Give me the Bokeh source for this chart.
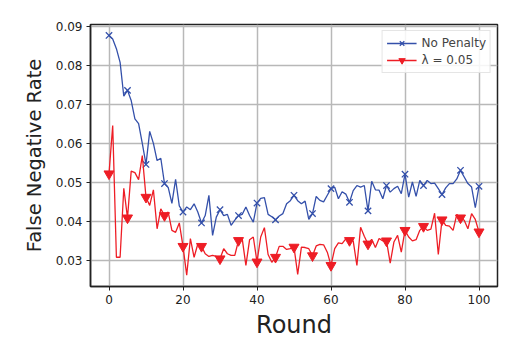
from bokeh.plotting import figure
from bokeh.embed import file_html
from bokeh.resources import INLINE
from bokeh.models import FixedTicker, Range1d

rounds = list(range(101))

no_penalty = [
    0.0877, 0.0868, 0.0843, 0.0808, 0.0721, 0.0736, 0.0710, 0.0663, 0.0651, 0.0600,
    0.0546, 0.0631, 0.0600, 0.0556, 0.0562, 0.0497, 0.0487, 0.0446, 0.0508, 0.0440,
    0.0424, 0.0437, 0.0430, 0.0445, 0.0424, 0.0396, 0.0415, 0.0467, 0.0364, 0.0411,
    0.0430, 0.0415, 0.0418, 0.0390, 0.0403, 0.0415, 0.0418, 0.0437, 0.0415, 0.0398,
    0.0447, 0.0459, 0.0461, 0.0418, 0.0412, 0.0404, 0.0414, 0.0420, 0.0445, 0.0453,
    0.0467, 0.0453, 0.0445, 0.0452, 0.0405, 0.0420, 0.0464, 0.0454, 0.0450, 0.0467,
    0.0484, 0.0488, 0.0458, 0.0476, 0.0470, 0.0449, 0.0479, 0.0492, 0.0488, 0.0492,
    0.0427, 0.0503, 0.0481, 0.0480, 0.0458, 0.0492, 0.0475, 0.0484, 0.0490, 0.0471,
    0.0521, 0.0462, 0.0501, 0.0464, 0.0505, 0.0492, 0.0505, 0.0497, 0.0498, 0.0484,
    0.0469, 0.0486, 0.0497, 0.0497, 0.0509, 0.0531, 0.0514, 0.0497, 0.0488, 0.0435,
    0.0490,
]

lambda_005 = [
    0.0522, 0.0646, 0.0308, 0.0308, 0.0485, 0.0409, 0.0529, 0.0525, 0.0507, 0.0569,
    0.0462, 0.0441, 0.0481, 0.0381, 0.0432, 0.0415, 0.0424, 0.0377, 0.0372, 0.0396,
    0.0336, 0.0262, 0.0356, 0.0308, 0.0342, 0.0336, 0.0317, 0.0310, 0.0313, 0.0310,
    0.0304, 0.0330, 0.0317, 0.0313, 0.0313, 0.0351, 0.0356, 0.0287, 0.0353, 0.0360,
    0.0296, 0.0360, 0.0384, 0.0315, 0.0295, 0.0308, 0.0336, 0.0336, 0.0328, 0.0330,
    0.0334, 0.0264, 0.0334, 0.0333, 0.0330, 0.0312, 0.0337, 0.0341, 0.0340, 0.0321,
    0.0287, 0.0330, 0.0345, 0.0343, 0.0355, 0.0351, 0.0350, 0.0287, 0.0385, 0.0362,
    0.0342, 0.0354, 0.0333, 0.0356, 0.0350, 0.0350, 0.0293, 0.0347, 0.0364, 0.0321,
    0.0377, 0.0360, 0.0350, 0.0353, 0.0377, 0.0387, 0.0377, 0.0380, 0.0421, 0.0315,
    0.0404, 0.0390, 0.0388, 0.0377, 0.0418, 0.0409, 0.0403, 0.0381, 0.0420, 0.0405,
    0.0373,
]

x_ticks = [0, 20, 40, 60, 80, 100]
y_ticks = [0.03, 0.04, 0.05, 0.06, 0.07, 0.08, 0.09]
mark_every = 5

BLUE = "#3450aa"
RED = "#ee1d25"
FONT = "DejaVu Sans"

p = figure(width=503, height=345, output_backend="svg", toolbar_location=None,
           x_range=Range1d(-5, 105), y_range=Range1d(0.0233, 0.0905),
           min_border_left=90, min_border_top=24, min_border_right=6, min_border_bottom=59)

mx = rounds[::mark_every]
p.line(rounds, no_penalty, line_color=BLUE, line_width=1.3, legend_label="No Penalty")
p.scatter(mx, no_penalty[::mark_every], marker="x", size=9, line_color=BLUE,
          line_width=1.3, legend_label="No Penalty")
p.line(rounds, lambda_005, line_color=RED, line_width=1.3, legend_label="λ = 0.05")
p.scatter(mx, lambda_005[::mark_every], marker="inverted_triangle", size=10,
          fill_color=RED, line_color=RED, legend_label="λ = 0.05")

p.xaxis.ticker = FixedTicker(ticks=x_ticks)
p.yaxis.ticker = FixedTicker(ticks=y_ticks)
p.xaxis.axis_label = "Round"
p.yaxis.axis_label = "False Negative Rate"
for ax in (p.xaxis[0], p.yaxis[0]):
    ax.axis_label_text_font = FONT
    ax.axis_label_text_font_style = "normal"
    ax.axis_label_text_color = "#222222"
    ax.major_label_text_font = FONT
    ax.major_label_text_font_size = "12px"
    ax.major_label_text_color = "#222222"
    ax.minor_tick_line_color = None
    ax.major_tick_out = 4
    ax.major_tick_in = 0
    ax.axis_line_color = "#222222"
    ax.axis_line_width = 1.5
    ax.major_tick_line_color = "#222222"
p.xaxis.axis_label_text_font_size = "24px"
p.yaxis.axis_label_text_font_size = "19.5px"
p.xaxis.axis_label_standoff = 4
p.yaxis.axis_label_standoff = 7
p.yaxis.major_label_standoff = 4
p.xaxis.major_label_standoff = 4

p.grid.grid_line_color = "#b8b8b8"
p.grid.grid_line_width = 1.5
p.outline_line_color = "#222222"
p.outline_line_width = 1.5

p.legend.location = "top_right"
p.legend.margin = 6
p.legend.padding = 4
p.legend.spacing = 1
p.legend.label_text_font = FONT
p.legend.label_text_font_size = "12px"
p.legend.label_height = 16
p.legend.glyph_height = 16
p.legend.glyph_width = 30
p.legend.border_line_color = "#cccccc"
p.legend.background_fill_alpha = 0.85

open("out.html", "w").write(file_html(p, INLINE))
